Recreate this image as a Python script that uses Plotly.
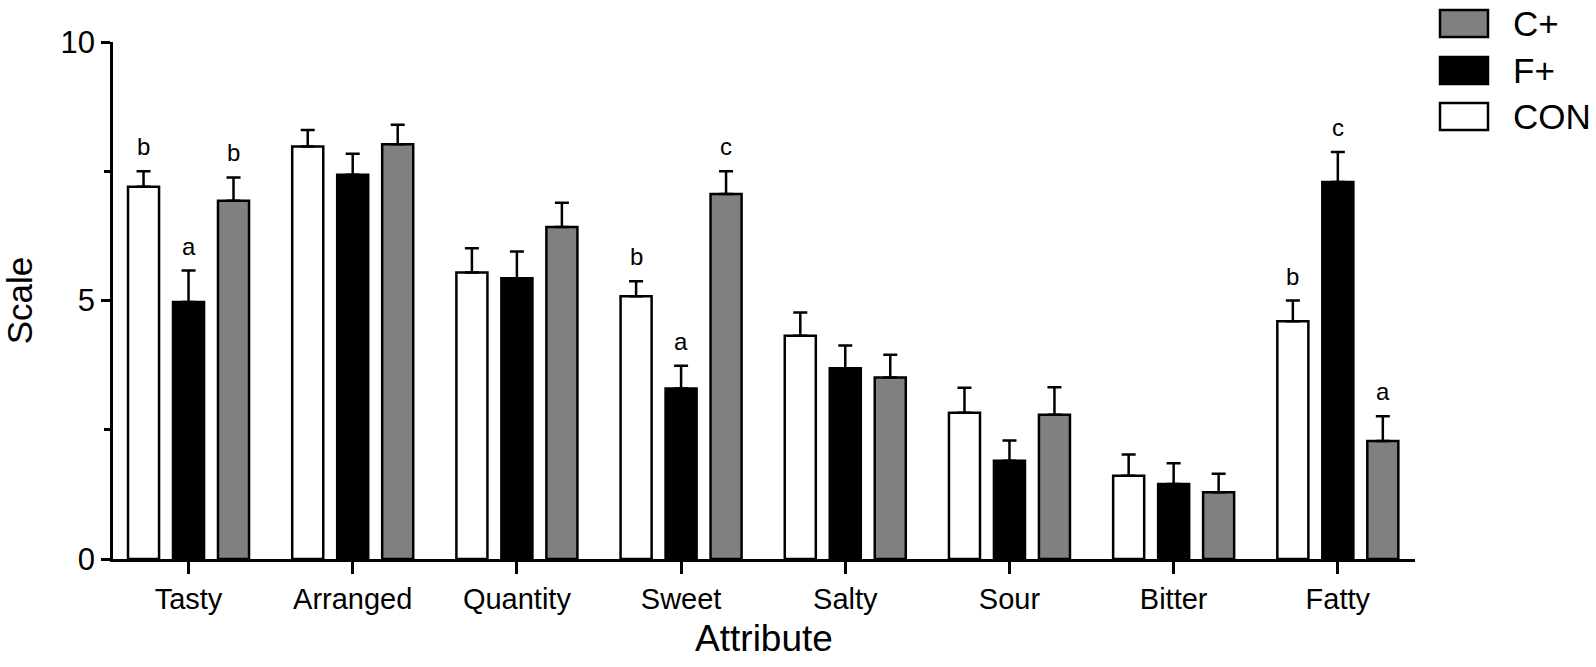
import plotly.graph_objects as go

# sensory attributes and mean scores
attributes = ["Tasty", "Arranged", "Quantity", "Sweet", "Salty", "Sour", "Bitter", "Fatty"]

con_mean = [7.20, 7.98, 5.54, 5.08, 4.32, 2.83, 1.61, 4.60]
con_err = [0.30, 0.32, 0.47, 0.29, 0.45, 0.48, 0.41, 0.40]
con_letters = ["b", "", "", "b", "", "", "", "b"]

fplus_mean = [4.97, 7.43, 5.43, 3.30, 3.69, 1.90, 1.45, 7.29]
fplus_err = [0.61, 0.41, 0.52, 0.44, 0.44, 0.39, 0.40, 0.58]
fplus_letters = ["a", "", "", "a", "", "", "", "c"]

cplus_mean = [6.93, 8.02, 6.42, 7.06, 3.51, 2.79, 1.29, 2.28]
cplus_err = [0.45, 0.38, 0.47, 0.44, 0.44, 0.53, 0.36, 0.48]
cplus_letters = ["b", "", "", "c", "", "", "", "a"]

font = "Liberation Sans, Arial, Helvetica, sans-serif"

W, H = 1596, 667
ML, MR, MT, MB = 113, 181, 42, 108
BARGAP = 0.178

groups = [
    ("CON", con_mean, con_err, con_letters, "white"),
    ("F+", fplus_mean, fplus_err, fplus_letters, "black"),
    ("C+", cplus_mean, cplus_err, cplus_letters, "#808080"),
]

fig = go.Figure()
for name, vals, errs, _, col in groups:
    fig.add_trace(go.Bar(
        x=attributes, y=vals, name=name,
        marker=dict(color=col, line=dict(color="black", width=2.5)),
        error_y=dict(type="data", symmetric=False, array=errs,
                     arrayminus=[0] * len(errs),
                     color="black", thickness=2.5, width=7),
        showlegend=False,
    ))

# significance letters above the error bars
step = (1 - BARGAP) / 3
annots = []
for j, (name, vals, errs, letters, col) in enumerate(groups):
    for i, lab in enumerate(letters):
        if not lab:
            continue
        annots.append(dict(
            x=i + (j - 1) * step, y=vals[i] + errs[i], xref="x", yref="y",
            text=lab, showarrow=False, yanchor="bottom", yshift=9,
            font=dict(family=font, size=24, color="black"),
        ))


# pixel -> paper helpers for the hand-made legend
def px(xp):
    return (xp - ML) / (W - ML - MR)


def py(yp):
    return (H - MB - yp) / (H - MT - MB)


shapes = []
legend_rows = [("C+", "#808080", 10), ("F+", "black", 57), ("CON", "white", 103)]
for lab, col, top in legend_rows:
    shapes.append(dict(type="rect", xref="paper", yref="paper",
                       x0=px(1440), x1=px(1488), y0=py(top + 27), y1=py(top),
                       fillcolor=col, line=dict(color="black", width=2.5)))
    annots.append(dict(x=px(1511), y=py(top + 13.5), xref="paper", yref="paper",
                       text=lab, showarrow=False, xanchor="left", yanchor="middle",
                       font=dict(family=font, size=35, color="black")))

fig.update_layout(
    width=W, height=H,
    margin=dict(l=ML, r=MR, t=MT, b=MB),
    paper_bgcolor="white", plot_bgcolor="white",
    barmode="group", bargap=BARGAP, bargroupgap=0.31,
    font=dict(family=font, color="black"),
    shapes=shapes, annotations=annots,
    xaxis=dict(
        range=[-0.46, 7.47], showline=True, linecolor="black", linewidth=2.5,
        ticks="outside", ticklen=12, tickwidth=2.5, tickcolor="black",
        tickfont=dict(size=29), showgrid=False, zeroline=False,
        title=dict(text="Attribute", font=dict(size=37), standoff=12),
    ),
    yaxis=dict(
        range=[0, 10], tickvals=[0, 5, 10], showline=True, linecolor="black",
        linewidth=2.5, ticks="outside", ticklen=9, tickwidth=2.5, tickcolor="black",
        minor=dict(tickvals=[2.5, 7.5], ticks="outside", ticklen=6,
                   tickwidth=2.5, tickcolor="black"),
        tickfont=dict(size=31), showgrid=False, zeroline=False,
        title=dict(text="Scale", font=dict(size=35), standoff=20),
    ),
)

# drop the default body margin so the figure fills the window exactly
fig.write_html("out.html",
               config={"displayModeBar": False},
               post_script="document.body.style.margin='0';"
                           "document.body.style.overflow='hidden';")
